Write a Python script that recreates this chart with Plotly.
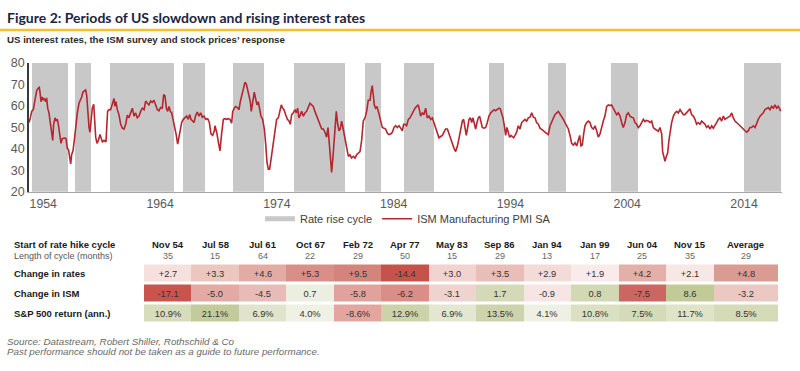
import plotly.graph_objects as go

# ---------------- DATA ----------------
# ISM Manufacturing PMI SA: (decimal year, value)
ism_1950s_60s = [
    (1954.60, 52.2), (1954.69, 53.7), (1954.83, 57.4), (1954.97, 58.2),
    (1955.11, 62.6), (1955.26, 67.1), (1955.40, 68.3), (1955.48, 68.6), (1955.54, 66.4),
    (1955.63, 61.9), (1955.74, 64.1), (1955.83, 62.6), (1955.91, 63.4),
    (1956.03, 61.9), (1956.11, 63.7), (1956.20, 58.9), (1956.31, 56.7), (1956.40, 52.9),
    (1956.54, 49.2), (1956.63, 43.9), (1956.71, 51.4), (1956.83, 54.4), (1956.91, 52.9),
    (1957.03, 53.7), (1957.11, 51.4), (1957.25, 45.4), (1957.34, 42.5), (1957.45, 44.7),
    (1957.63, 45.0), (1957.77, 44.7), (1957.88, 40.2), (1957.99, 39.5),
    (1958.08, 36.5), (1958.17, 33.0), (1958.25, 37.2), (1958.37, 39.2), (1958.48, 43.9),
    (1958.60, 51.4), (1958.74, 56.7), (1958.88, 61.2),
    (1959.02, 62.6), (1959.11, 64.1), (1959.22, 66.4), (1959.34, 67.1), (1959.45, 67.4),
    (1959.54, 64.9), (1959.62, 57.4), (1959.74, 49.9), (1959.82, 47.7), (1959.91, 53.7),
    (1960.02, 58.9), (1960.14, 60.7), (1960.22, 54.4), (1960.31, 45.4), (1960.42, 42.5),
    (1960.54, 43.9), (1960.68, 46.6), (1960.76, 45.4), (1960.88, 43.2),
    (1961.02, 43.9), (1961.19, 43.2), (1961.33, 57.4), (1961.45, 58.2), (1961.59, 58.2),
    (1961.73, 61.2), (1961.88, 63.4), (1961.96, 59.7),
    (1962.05, 61.9), (1962.16, 58.2), (1962.30, 55.9), (1962.45, 51.4), (1962.59, 49.6),
    (1962.73, 49.2), (1962.88, 51.4),
    (1963.02, 55.6), (1963.16, 54.4), (1963.30, 56.7), (1963.45, 58.9), (1963.59, 55.2),
    (1963.73, 56.7), (1963.87, 54.4),
    (1964.02, 55.2), (1964.16, 57.4), (1964.30, 58.9), (1964.45, 58.2), (1964.59, 62.2),
    (1964.73, 61.2), (1964.87, 60.4),
    (1965.02, 62.2), (1965.16, 61.6), (1965.30, 62.6), (1965.44, 60.4), (1965.59, 58.2),
    (1965.73, 57.7), (1965.87, 59.2),
    (1966.01, 58.9), (1966.13, 65.2), (1966.24, 64.6), (1966.36, 58.9), (1966.47, 57.4),
    (1966.59, 59.7), (1966.70, 57.4), (1966.82, 56.7), (1966.93, 53.7),
    (1967.04, 49.9), (1967.19, 46.9), (1967.33, 42.2), (1967.44, 45.4), (1967.56, 49.9),
    (1967.67, 52.2), (1967.81, 53.7), (1967.96, 54.4),
    (1968.10, 55.2), (1968.24, 53.7), (1968.36, 55.9), (1968.47, 53.7), (1968.58, 52.9),
    (1968.73, 52.2), (1968.87, 55.6),
    (1969.01, 57.1), (1969.15, 55.2), (1969.30, 56.7), (1969.44, 54.7), (1969.58, 55.2),
    (1969.73, 53.7), (1969.90, 54.0),
    (1970.04, 52.2), (1970.18, 46.9), (1970.32, 46.2), (1970.47, 48.4),
]
ism_1970s_80s = [
    (1970.52, 50.7), (1970.67, 47.7), (1970.81, 43.2), (1970.95, 39.0),
    (1971.09, 46.9), (1971.24, 53.7), (1971.38, 54.0), (1971.52, 53.7), (1971.66, 54.0),
    (1971.81, 53.7), (1971.95, 51.9),
    (1972.04, 57.4), (1972.18, 58.9), (1972.29, 59.7), (1972.44, 59.2), (1972.58, 58.2),
    (1972.69, 61.9), (1972.81, 64.9), (1972.95, 68.6),
    (1973.09, 70.9), (1973.21, 70.1), (1973.32, 67.1), (1973.43, 64.9), (1973.55, 61.9),
    (1973.63, 57.4), (1973.75, 62.6), (1973.89, 66.4),
    (1974.00, 63.4), (1974.12, 60.4), (1974.23, 61.9), (1974.35, 57.4), (1974.46, 55.2),
    (1974.60, 53.7), (1974.75, 49.2), (1974.86, 42.5), (1974.98, 33.5),
    (1975.09, 30.5), (1975.20, 30.5), (1975.32, 35.0), (1975.43, 39.5), (1975.55, 43.9),
    (1975.66, 49.2), (1975.80, 53.7), (1975.95, 54.4),
    (1976.09, 57.4), (1976.20, 60.4), (1976.32, 58.9), (1976.43, 58.2), (1976.57, 55.9),
    (1976.72, 53.7), (1976.86, 52.9), (1976.97, 51.4),
    (1977.09, 55.9), (1977.23, 56.7), (1977.37, 58.2), (1977.49, 56.7), (1977.60, 58.9),
    (1977.71, 54.4), (1977.83, 55.9), (1977.94, 57.4),
    (1978.09, 55.2), (1978.23, 56.7), (1978.37, 57.4), (1978.51, 59.7), (1978.66, 61.2),
    (1978.80, 60.4), (1978.94, 59.7),
    (1979.08, 57.4), (1979.23, 55.2), (1979.37, 53.7), (1979.51, 51.4), (1979.66, 49.2),
    (1979.80, 49.2), (1979.94, 47.7),
    (1980.08, 45.4), (1980.20, 49.9), (1980.31, 42.5), (1980.43, 35.0), (1980.51, 29.0),
    (1980.63, 36.5), (1980.71, 43.9), (1980.83, 52.9), (1980.91, 57.4),
    (1981.03, 51.4), (1981.14, 48.4), (1981.25, 49.2), (1981.37, 52.9), (1981.48, 49.9),
    (1981.60, 46.2), (1981.71, 44.7), (1981.83, 41.0), (1981.94, 36.5),
    (1982.08, 37.2), (1982.22, 35.7), (1982.37, 36.5), (1982.51, 35.7), (1982.65, 37.2),
    (1982.80, 38.0), (1982.94, 38.7),
    (1983.08, 43.9), (1983.22, 52.9), (1983.37, 54.4), (1983.51, 57.4), (1983.65, 62.6),
    (1983.80, 62.6), (1983.88, 66.4), (1983.99, 69.4),
    (1984.08, 64.9), (1984.16, 60.4), (1984.28, 58.9), (1984.39, 59.7), (1984.51, 57.4),
    (1984.62, 55.2), (1984.74, 52.2), (1984.85, 49.9), (1984.99, 49.6),
    (1985.13, 49.2), (1985.28, 47.2), (1985.42, 46.6), (1985.56, 46.9), (1985.71, 47.7),
    (1985.85, 49.9), (1985.99, 50.7),
    (1986.13, 49.9), (1986.28, 50.7), (1986.42, 49.6), (1986.56, 48.4), (1986.68, 51.4),
]
ism_1980s_00s = [
    (1986.79, 51.4), (1986.93, 50.7),
    (1987.08, 53.7), (1987.22, 54.4), (1987.36, 55.9), (1987.50, 57.4), (1987.65, 58.9),
    (1987.79, 59.7), (1987.93, 60.4),
    (1988.02, 58.2), (1988.13, 55.2), (1988.28, 56.7), (1988.42, 55.9), (1988.56, 58.9),
    (1988.70, 54.4), (1988.85, 55.2), (1988.99, 53.7),
    (1989.13, 54.4), (1989.27, 52.2), (1989.42, 49.9), (1989.56, 46.9), (1989.70, 45.1),
    (1989.84, 45.7), (1989.99, 46.2),
    (1990.13, 47.7), (1990.27, 49.2), (1990.42, 49.2), (1990.56, 46.9), (1990.70, 44.7),
    (1990.84, 42.5), (1990.99, 40.2),
    (1991.13, 38.7), (1991.27, 41.0), (1991.41, 44.7), (1991.56, 49.2), (1991.70, 52.9),
    (1991.81, 53.7), (1991.93, 49.9),
    (1992.04, 46.2), (1992.16, 49.9), (1992.27, 53.7), (1992.39, 54.4), (1992.50, 52.2),
    (1992.61, 54.4), (1992.73, 51.4), (1992.84, 49.2), (1992.96, 52.2),
    (1993.07, 54.4), (1993.18, 55.2), (1993.30, 52.9), (1993.41, 49.9), (1993.55, 49.6),
    (1993.70, 49.9), (1993.84, 52.2), (1993.98, 55.2),
    (1994.13, 56.7), (1994.27, 57.4), (1994.41, 58.2), (1994.55, 57.7), (1994.70, 58.2),
    (1994.84, 58.9), (1994.95, 58.6),
    (1995.07, 56.7), (1995.18, 54.4), (1995.30, 50.7), (1995.41, 46.2), (1995.52, 49.9),
    (1995.64, 47.7), (1995.75, 45.4), (1995.87, 46.2), (1995.98, 45.7),
    (1996.10, 45.1), (1996.21, 46.2), (1996.35, 47.7), (1996.49, 50.7), (1996.64, 49.2),
    (1996.78, 52.2), (1996.92, 52.9),
    (1997.06, 53.7), (1997.21, 52.9), (1997.35, 54.4), (1997.49, 54.7), (1997.64, 56.7),
    (1997.78, 54.7), (1997.92, 54.4),
    (1998.06, 52.2), (1998.21, 51.4), (1998.35, 49.6), (1998.49, 49.2), (1998.64, 48.4),
    (1998.78, 47.7), (1998.92, 46.9),
    (1999.06, 46.6), (1999.21, 50.7), (1999.35, 52.2), (1999.49, 54.4), (1999.63, 55.9),
    (1999.78, 56.7), (1999.92, 57.4),
    (2000.06, 56.2), (2000.20, 55.2), (2000.35, 53.7), (2000.49, 52.2), (2000.63, 50.7),
    (2000.78, 49.2), (2000.92, 46.2),
    (2001.06, 42.5), (2001.20, 41.7), (2001.35, 42.8), (2001.49, 41.3), (2001.63, 44.7),
    (2001.75, 46.2), (2001.86, 41.3), (2001.97, 41.7),
    (2002.09, 46.9), (2002.20, 50.7), (2002.35, 52.2), (2002.49, 52.9), (2002.63, 52.2),
    (2002.77, 49.9), (2002.92, 49.2),
]
ism_2000s_10s = [
    (2003.06, 50.7), (2003.20, 48.4), (2003.34, 45.4), (2003.49, 46.9), (2003.63, 50.7),
    (2003.77, 52.9), (2003.91, 55.2),
    (2004.06, 59.7), (2004.20, 60.4), (2004.34, 60.1), (2004.48, 60.4), (2004.63, 58.9),
    (2004.77, 57.4), (2004.91, 55.9),
    (2005.06, 56.7), (2005.20, 55.2), (2005.34, 52.2), (2005.48, 49.9), (2005.63, 52.2),
    (2005.77, 55.9), (2005.91, 56.7),
    (2006.05, 55.2), (2006.20, 54.7), (2006.34, 54.4), (2006.48, 52.2), (2006.63, 51.4),
    (2006.77, 49.9), (2006.91, 50.7),
    (2007.05, 52.2), (2007.20, 53.7), (2007.34, 52.6), (2007.48, 53.2), (2007.62, 52.9),
    (2007.77, 52.2), (2007.91, 52.9),
    (2008.05, 49.9), (2008.20, 49.2), (2008.34, 48.4), (2008.48, 48.1), (2008.62, 49.9),
    (2008.77, 46.9), (2008.85, 38.7), (2008.97, 35.0),
    (2009.05, 34.2), (2009.17, 36.5), (2009.28, 38.0), (2009.39, 43.9), (2009.51, 48.4),
    (2009.62, 52.2), (2009.77, 55.2), (2009.91, 56.7),
    (2010.05, 57.4), (2010.19, 56.7), (2010.34, 58.2), (2010.48, 56.7), (2010.62, 55.9),
    (2010.76, 55.9), (2010.91, 56.7),
    (2011.05, 57.4), (2011.19, 58.6), (2011.33, 55.9), (2011.48, 55.2), (2011.62, 53.7),
    (2011.76, 51.4), (2011.90, 52.2),
    (2012.05, 51.4), (2012.19, 52.9), (2012.33, 52.2), (2012.48, 51.4), (2012.62, 49.9),
    (2012.76, 50.7), (2012.90, 49.2),
    (2013.05, 50.7), (2013.19, 49.6), (2013.33, 50.7), (2013.47, 52.2), (2013.62, 53.7),
    (2013.76, 54.4), (2013.90, 52.9),
    (2014.05, 55.2), (2014.19, 53.7), (2014.33, 54.4), (2014.47, 54.7), (2014.62, 55.2),
    (2014.76, 56.7), (2014.90, 54.4),
    (2015.04, 52.9), (2015.19, 52.2), (2015.33, 51.4), (2015.47, 50.7), (2015.61, 49.9),
    (2015.76, 49.2), (2015.90, 48.1),
    (2016.04, 47.7), (2016.19, 48.4), (2016.33, 49.9), (2016.47, 49.9), (2016.61, 50.7),
    (2016.76, 49.9), (2016.90, 52.2),
    (2017.04, 53.7), (2017.19, 55.2), (2017.33, 55.9), (2017.47, 56.7), (2017.61, 58.2),
    (2017.76, 58.9), (2017.90, 59.2),
    (2018.04, 58.2), (2018.18, 59.7), (2018.33, 58.9), (2018.47, 60.4), (2018.61, 58.9),
    (2018.75, 59.7), (2018.90, 58.2), (2018.95, 57.5),
]

# Rate rise cycles (shaded periods), decimal years
band_start = [1954.83, 1958.50, 1961.50, 1967.75, 1972.08, 1977.25,
              1983.33, 1986.67, 1994.00, 1999.00, 2004.42, 2015.83]
band_end = [1957.96, 1959.90, 1967.00, 1969.67, 1974.72, 1981.63,
            1984.74, 1989.27, 1995.30, 2000.57, 2006.70, 2018.95]

x_tick_years = [1954, 1964, 1974, 1984, 1994, 2004, 2014]
y_ticks = [20, 30, 40, 50, 60, 70, 80]

# Table
cycle_start = ["Nov 54", "Jul 58", "Jul 61", "Oct 67", "Feb 72", "Apr 77", "May 83",
               "Sep 86", "Jan 94", "Jan 99", "Jun 04", "Nov 15", "Average"]
cycle_length = [35, 15, 64, 22, 29, 50, 15, 29, 13, 17, 25, 35, 29]
change_rates = [2.7, 3.3, 4.6, 5.3, 9.5, -14.4, 3.0, 3.5, 2.9, 1.9, 4.2, 2.1, 4.8]
change_ism = [-17.1, -5.0, -4.5, 0.7, -5.8, -6.2, -3.1, 1.7, -0.9, 0.8, -7.5, 8.6, -3.2]
sp500_return = [10.9, 21.1, 6.9, 4.0, -8.6, 12.9, 6.9, 13.5, 4.1, 10.8, 7.5, 11.7, 8.5]
row_labels = ["Change in rates", "Change in ISM", "S&amp;P 500 return (ann.)"]

# Cell fill colours (style)
rates_colors = ["#f5e0dd", "#ecc6c1", "#e2aca5", "#d88f88", "#d3857d", "#c6524c", "#f1d3cf",
                "#e9beb8", "#f3dcd8", "#f8ebe9", "#e3b0a9", "#f7e8e5", "#da9b93"]
ism_colors = ["#c9544e", "#e2aaa3", "#e8bcb6", "#ebeee0", "#e0a39b", "#d98e87", "#efd3cf",
              "#d4dab7", "#f6e5e2", "#d2d8b3", "#cc6660", "#c2cb97", "#ecc8c3"]
sp_colors = ["#d7dcbb", "#c4cb9a", "#e0e4cc", "#eff1e5", "#e2a69e", "#cdd3a9", "#e3e6d0",
             "#cdd3aa", "#eef0e3", "#dbe0c3", "#d5dab8", "#dfe3c8", "#d5dab7"]

# ---------------- FIGURE ----------------
W, H = 800, 371
def py(p):  # pixel row -> paper y
    return 1 - p / H
def px(p):
    return p / W

ism = ism_1950s_60s + ism_1970s_80s + ism_1980s_00s + ism_2000s_10s
ism_x = [t for t, v in ism]
ism_y = [v for t, v in ism]

Y_MIN, Y_MAX = y_ticks[0], y_ticks[-1]
RED = "#b5262f"
GREY_BAND = "#c8c8c8"
SANS = "Liberation Sans, Arial, sans-serif"
TITLE_FONT = "Lato, Liberation Sans, sans-serif"

fig = go.Figure()

fig.add_trace(go.Bar(
    x=[(s + e) / 2 for s, e in zip(band_start, band_end)],
    y=[Y_MAX - Y_MIN] * len(band_start), base=Y_MIN,
    width=[e - s for s, e in zip(band_start, band_end)],
    marker=dict(color=GREY_BAND, line=dict(width=0)),
    showlegend=False, hoverinfo="skip", xaxis="x", yaxis="y"))

# legend proxies
fig.add_trace(go.Scatter(x=[None], y=[None], mode="lines", name="Rate rise cycle",
                         line=dict(color=GREY_BAND, width=5)))
fig.add_trace(go.Scatter(x=ism_x, y=ism_y, mode="lines", name="ISM Manufacturing PMI SA",
                         line=dict(color=RED, width=1.6), hoverinfo="skip"))

# table as heatmap
ncol = len(cycle_start)
avg_w = 1.365
col_edges = list(range(ncol)) + [ncol - 1 + avg_w]
all_colors = rates_colors + ism_colors + sp_colors
n_cells = len(all_colors)
cscale = []
for i, c in enumerate(all_colors):
    cscale.append([i / n_cells, c])
    cscale.append([(i + 1) / n_cells, c])
z = [[r * ncol + c + 0.5 for c in range(ncol)] for r in range(3)]
txt = [["%+.1f" % v for v in change_rates],
       ["%.1f" % v for v in change_ism],
       ["%.1f%%" % v for v in sp500_return]]
fig.add_trace(go.Heatmap(
    x=col_edges, y=[0, 1, 2, 3], z=z, zmin=0, zmax=n_cells,
    colorscale=cscale, showscale=False, xgap=0, ygap=3,
    text=txt, texttemplate="%{text}", textfont=dict(size=9.3, color="#333333", family=SANS),
    hoverinfo="skip", xaxis="x2", yaxis="y2"))

# table annotations
ann = []
centers = [(col_edges[i] + col_edges[i + 1]) / 2 for i in range(ncol)]
for c, name, ln in zip(centers, cycle_start, cycle_length):
    ann.append(dict(x=c, y=py(247), xref="x2", yref="paper", text="<b>%s</b>" % name,
                    showarrow=False, font=dict(size=9.5, color="#1a1a1a", family=SANS),
                    xanchor="center", yanchor="middle"))
    ann.append(dict(x=c, y=py(259), xref="x2", yref="paper", text=str(ln),
                    showarrow=False, font=dict(size=9, color="#666666", family=SANS),
                    xanchor="center", yanchor="middle"))
ann.append(dict(x=px(12), y=py(247), xref="paper", yref="paper",
                text="<b>Start of rate hike cycle</b>", showarrow=False,
                font=dict(size=9.5, color="#1a1a1a", family=SANS), xanchor="left", yanchor="middle"))
ann.append(dict(x=px(12), y=py(259), xref="paper", yref="paper",
                text="Length of cycle (months)", showarrow=False,
                font=dict(size=9, color="#555555", family=SANS), xanchor="left", yanchor="middle"))
for i, lab in enumerate(row_labels):
    ann.append(dict(x=px(12), y=i + 0.5, xref="paper", yref="y2", text="<b>%s</b>" % lab,
                    showarrow=False, font=dict(size=9.5, color="#1a1a1a", family=SANS),
                    xanchor="left", yanchor="middle"))

# titles and notes
ann.append(dict(x=px(5), y=py(10.5), xref="paper", yref="paper",
                text="<b>Figure 2: Periods of US slowdown and rising interest rates</b>",
                showarrow=False, font=dict(size=14, color="#1b2440", family=TITLE_FONT),
                xanchor="left", yanchor="middle"))
ann.append(dict(x=px(5), y=py(33.5), xref="paper", yref="paper",
                text="<b>US interest rates, the ISM survey and stock prices\u2019 response</b>",
                showarrow=False, font=dict(size=9.7, color="#2a2a2a", family=SANS),
                xanchor="left", yanchor="middle"))
ann.append(dict(x=px(5), y=py(347.5), xref="paper", yref="paper",
                text="<i>Source: Datastream, Robert Shiller, Rothschild &amp; Co</i>",
                showarrow=False, font=dict(size=9.8, color="#6a6a6a", family=SANS),
                xanchor="left", yanchor="middle"))
ann.append(dict(x=px(5), y=py(358), xref="paper", yref="paper",
                text="<i>Past performance should not be taken as a guide to future performance.</i>",
                showarrow=False, font=dict(size=9.8, color="#6a6a6a", family=SANS),
                xanchor="left", yanchor="middle"))

# x range mapped from picture: left edge = data start, right edge = data end
x_lo, x_hi = 1954.60, 2019.07

fig.update_layout(
    width=W, height=H, margin=dict(l=0, r=0, t=0, b=0),
    paper_bgcolor="white", plot_bgcolor="white",
    bargap=0, hovermode=False,
    annotations=ann,
    shapes=[dict(type="line", xref="paper", yref="paper", x0=0, x1=1,
                 y0=py(23.8), y1=py(23.8), line=dict(color="#f2c12e", width=2.5))],
    xaxis=dict(domain=[px(29), px(782)], range=[x_lo, x_hi], showgrid=False, zeroline=False,
               showline=True, linecolor="#a6a6a6", linewidth=1, ticks="",
               tickvals=[y + 1.82 for y in x_tick_years], ticktext=[str(y) for y in x_tick_years],
               tickfont=dict(size=12.3, color="#595959", family=SANS), anchor="y"),
    yaxis=dict(domain=[py(192), py(58)], range=[Y_MIN, Y_MAX], showgrid=False, zeroline=False,
               showline=True, linecolor="#3a3a3a", linewidth=1.5, ticks="",
               tickvals=y_ticks, tickfont=dict(size=12.5, color="#595959", family=SANS),
               anchor="x"),
    xaxis2=dict(domain=[px(144), px(778.3)], range=[0, col_edges[-1]], visible=False,
                anchor="y2", fixedrange=True),
    yaxis2=dict(domain=[py(329), py(266.5)], range=[3, 0], visible=False,
                anchor="x2", fixedrange=True),
    legend=dict(orientation="h", x=px(408), y=py(220), xanchor="center", yanchor="middle",
                font=dict(size=11, color="#404040", family=SANS), bgcolor="rgba(0,0,0,0)",
                itemwidth=30),
)

fig.write_html("out.html", config={"displayModeBar": False},
               post_script="document.body.style.margin='0';")
